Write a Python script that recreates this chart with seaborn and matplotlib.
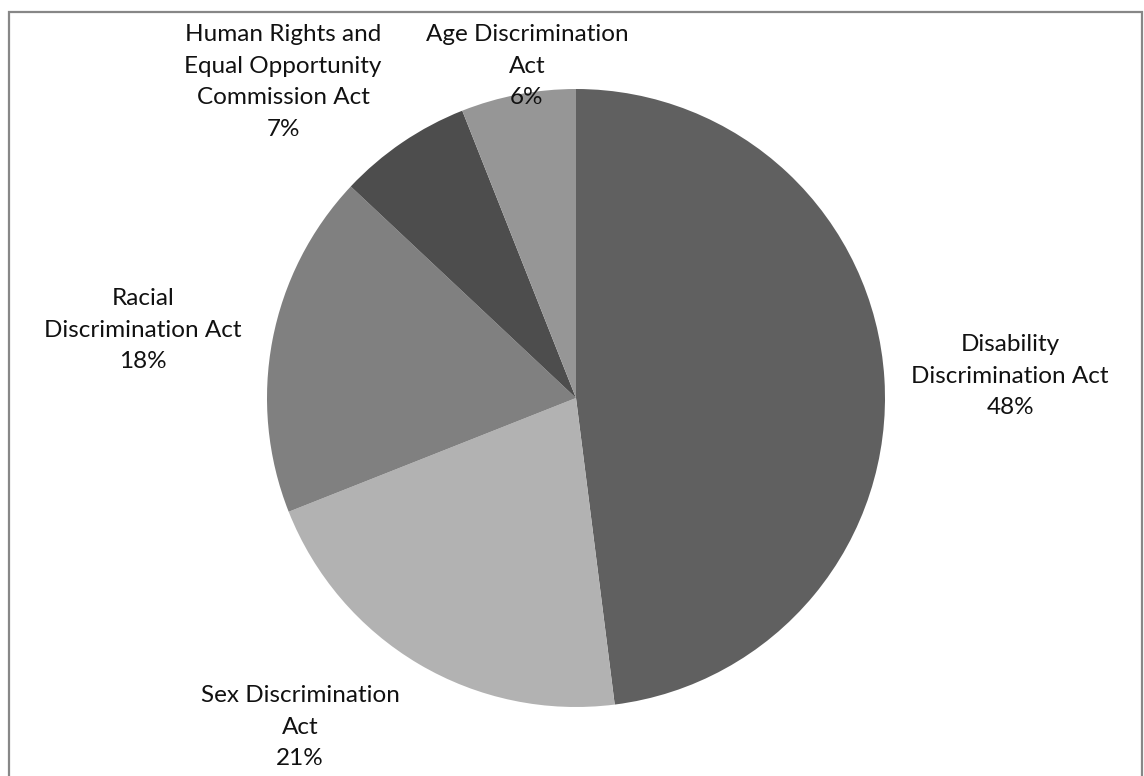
import matplotlib
matplotlib.use("Agg")
import matplotlib.pyplot as plt
import matplotlib.patches as mpatches
import seaborn as sns

# ---- data ----
categories = [
    "Disability\nDiscrimination Act",
    "Sex Discrimination\nAct",
    "Racial\nDiscrimination Act",
    "Human Rights and\nEqual Opportunity\nCommission Act",
    "Age Discrimination\nAct",
]
shares = [48, 21, 18, 7, 6]

# ---- styles / layout ----
colors = ["#606060", "#b2b2b2", "#808080", "#4d4d4d", "#969696"]
label_xy = [(1.405, 0.071), (-0.893, -1.065), (-1.401, 0.220), (-0.948, 1.023), (-0.159, 1.074)]

sns.set_theme(style="white")
plt.rcParams["font.family"] = ["Lato", "DejaVu Sans"]

W, H, DPI = 1144, 776, 100
fig = plt.figure(figsize=(W / DPI, H / DPI), dpi=DPI)
ax = fig.add_axes([0, 0, 1, 1])

cx, cy, R = 576, 398, 309
ax.pie(shares, colors=colors, startangle=90, counterclock=False,
       radius=1.0, wedgeprops=dict(linewidth=0))
ax.set_aspect("auto")
ax.set_xlim(-cx / R, (W - cx) / R)
ax.set_ylim(-(H - cy) / R, cy / R)
ax.axis("off")

total = sum(shares)
for cat, val, (tx, ty) in zip(categories, shares, label_xy):
    pct = round(100 * val / total)
    ax.text(tx, ty, f"{cat}\n{pct}%", ha="center", va="center",
            fontsize=17.5, color="#111111", linespacing=1.62, zorder=5)

# outer chart frame
frame = mpatches.Rectangle((9 / W, -0.02), (1142 - 9) / W, (H - 12) / H + 0.02,
                           transform=fig.transFigure, fill=False,
                           edgecolor="#878787", linewidth=1.6, clip_on=False)
fig.patches.append(frame)

fig.savefig("out.png", dpi=DPI, facecolor="white")
